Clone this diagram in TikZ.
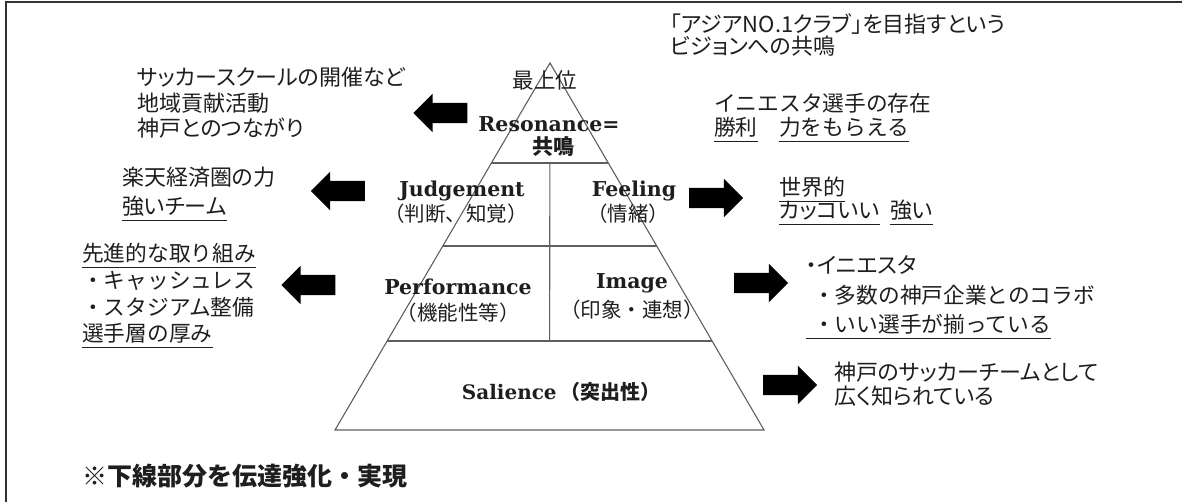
\documentclass[tikz,border=0pt]{standalone}
\usepackage{fontspec}
\usetikzlibrary{shapes.arrows,calc}
\newfontfamily\jpm{Noto Sans CJK JP}
\newfontfamily\jpp[RawFeature=+palt]{Noto Sans CJK JP}
\newfontfamily\slab{DejaVu Serif}
\definecolor{txt}{RGB}{30,30,30}
\definecolor{pyr}{RGB}{95,95,95}
\definecolor{frm}{RGB}{50,50,50}
\tikzset{
  base/.style={inner sep=0pt, text=txt, text height=17pt, text depth=4.5pt},
  jt/.style={base, anchor=west, font=\jpm\fontsize{21.7}{24}\selectfont},
  jpt/.style={base, anchor=west, font=\jpp\fontsize{22}{24}\selectfont},
  jpc/.style={base, font=\jpm\fontsize{20.5}{24}\selectfont},
  jpcc/.style={base, font=\jpp\fontsize{21.5}{24}\selectfont},
  jbc/.style={base, font=\jpm\bfseries\fontsize{21}{24}\selectfont},
  slabt/.style={inner sep=0pt, text=txt, font=\slab\bfseries\fontsize{20.5}{22}\selectfont},
  ul/.style={draw=txt, line width=1pt},
  pline/.style={draw=pyr, line width=1.1pt},
  blk/.style={single arrow, fill=black, draw=none, inner sep=0pt,
     text height=20pt, text depth=0pt, text width=0pt,
     minimum height=54pt, minimum width=38pt, single arrow head extend=9pt},
  blkl/.style={blk, shape border rotate=180},
}
\begin{document}
\begin{tikzpicture}[x=1pt,y=-1pt]
\useasboundingbox (0,0) rectangle (1182,502);
% frame
\draw[frm, line width=1.6pt] (6,502) -- (6,2) -- (1182,2);
% pyramid
\coordinate (apex) at (550,63);
\coordinate (bl) at (335,430);
\coordinate (br) at (764,430);
\coordinate (l1) at ($(apex)!0.2725!(bl)$);
\coordinate (r1) at ($(apex)!0.2725!(br)$);
\coordinate (l2) at ($(apex)!0.4986!(bl)$);
\coordinate (r2) at ($(apex)!0.4986!(br)$);
\coordinate (l3) at ($(apex)!0.7575!(bl)$);
\coordinate (r3) at ($(apex)!0.7575!(br)$);
\coordinate (m1) at ($(l1)!0.5!(r1)$);
\coordinate (m3) at ($(l3)!0.5!(r3)$);
\draw[pline] (apex) -- (bl) -- (br) -- cycle;
\draw[pline] (l1) -- (r1);
\draw[pline] (l2) -- (r2);
\draw[pline] (l3) -- (r3);
\draw[pline] (m1) -- (m3);
% pyramid texts
\node[jpcc] (top) at (545,82) {最上位};
\node[slabt] (res) at (549,124) {Resonance=};
\node[jbc] (kyo) at (553,148) {共鳴};
\node[slabt] (jud) at (462,191) {Judgement};
\node[jpc] (judj) at (456,215) {（判断、知覚）};
\node[slabt] (fee) at (634,191) {Feeling};
\node[jpc] (feej) at (628,215) {（情緒）};
\node[slabt] (per) at (458,287) {Performance};
\node[jpc] (perj) at (458,314) {（機能性等）};
\node[slabt] (img) at (632,283) {Image};
\node[jpc] (imgj) at (632,311) {（印象・連想）};
\node[base, font=\fontsize{20}{22}\selectfont] (sal) at (561,393) {\slab\bfseries Salience\,\jpm\bfseries（突出性）};
% left texts
\node[jpt] (l1a) at (137,79) {サッカースクールの開催など};
\node[jpt] (l1b) at (137,105) {地域貢献活動};
\node[jpt] (l1c) at (137,130) {神戸とのつながり};
\node[jpt] (l2a) at (122,179) {楽天経済圏の力};
\node[jpt] (l2b) at (122,208) {強いチーム};
\node[jt] (l3a) at (82,255) {先進的な取り組み};
\node[jt] (l3b) at (82,282) {・キャッシュレス};
\node[jt] (l3c) at (82,309) {・スタジアム整備};
\node[jt] (l3d) at (82,335) {選手層の厚み};
% right texts
\node[jpt] (r1a) at (670,26) {「アジアNO.1クラブ」を目指すという};
\node[jpt] (r1b) at (670,48) {ビジョンへの共鳴};
\node[jt] (r2a) at (714,105) {イニエスタ選手の存在};
\node[jt] (r2b) at (714,129) {勝利};
\node[jt] (r2c) at (779,129) {力をもらえる};
\node[jpt] (r3a) at (779,189) {世界的};
\node[jpt] (r3b) at (779,212) {カッコいい};
\node[jpt] (r3c) at (890,212) {強い};
\node[jpt] (r4a) at (806,267) {・イニエスタ};
\node[jt] (r4b) at (813,297) {・多数の神戸企業とのコラボ};
\node[jt] (r4c) at (813,326) {・いい選手が揃っている};
\node[jpt] (r5a) at (834,374) {神戸のサッカーチームとして};
\node[jpt] (r5b) at (834,398) {広く知られている};
% bottom note
\node[anchor=west, inner sep=0pt, text=txt, font=\jpm\bfseries\fontsize{25}{26}\selectfont] (note) at (82,476) {※下線部分を伝達強化・実現};
% underlines
\foreach \n in {l2b,l3a,l3d,r2b,r2c,r3a,r3b,r3c}{
  \draw[ul] ([yshift=-1.5pt]\n.south west) -- ([yshift=-1.5pt]\n.south east);
}
\draw[ul] ([xshift=-7pt,yshift=-1.5pt]r4c.south west) -- ([yshift=-1.5pt]r4c.south east);
% block arrows
\node[blkl] (a1) at (445.5,113) {};
\node[blkl] (a2) at (343,191) {};
\node[blkl] (a3) at (313.5,285) {};
\node[blk] (a4) at (711,198) {};
\node[blk] (a5) at (756,283) {};
\node[blk] (a6) at (785,385) {};
\end{tikzpicture}
\end{document}
